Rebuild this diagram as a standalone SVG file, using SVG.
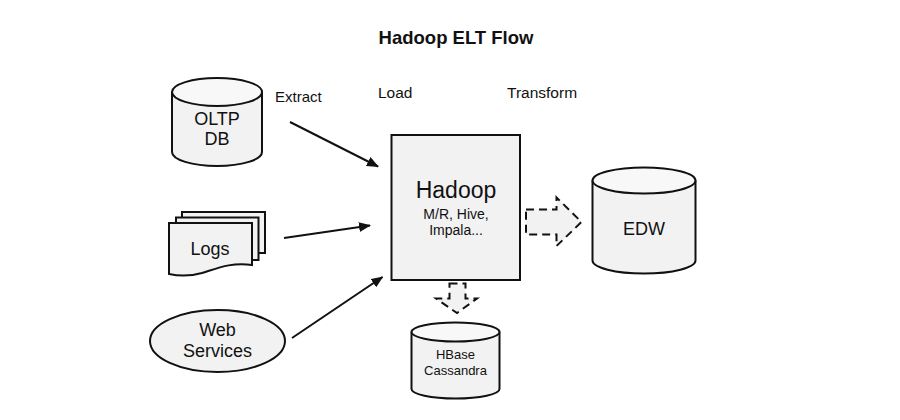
<svg xmlns="http://www.w3.org/2000/svg" width="900" height="420" viewBox="0 0 900 420">
<style>
text{font-family:"Liberation Sans",Arial,sans-serif;fill:#111}
.shape{fill:#f2f2f2;stroke:#111;stroke-width:2}
.top{fill:#f8f8f8;stroke:#111;stroke-width:2}
.conn{stroke:#111;stroke-width:2;fill:none}
.dash{fill:#f2f2f2;stroke:#111;stroke-width:2;stroke-dasharray:8,5}
</style>
<defs>
<marker id="ah" viewBox="0 0 12 10" refX="11" refY="5" markerWidth="12" markerHeight="10" markerUnits="userSpaceOnUse" orient="auto">
<path d="M0,0 L12,5 L0,10 Z" fill="#111"/>
</marker>
</defs>
<rect width="900" height="420" fill="#fff"/>
<text x="456" y="44" font-size="18.5" font-weight="bold" text-anchor="middle">Hadoop ELT Flow</text>
<text x="275" y="102" font-size="15">Extract</text>
<text x="378" y="98" font-size="15.5">Load</text>
<text x="507" y="98" font-size="15.5">Transform</text>

<g id="oltp">
<path class="shape" d="M172,92 V152 A45,14 0 0 0 262,152 V92"/>
<ellipse class="top" cx="217" cy="92" rx="45" ry="14"/>
<text x="217" y="125" font-size="18" text-anchor="middle">OLTP</text>
<text x="217" y="145" font-size="18" text-anchor="middle">DB</text>
</g>

<g id="logs">
<path class="shape" d="M182,212 H265 V253 H182 Z"/>
<path class="shape" d="M176,217.5 H258.5 V260 H176 Z"/>
<path class="shape" d="M169,223 H252 V265 C232,262 218,268 202,273 C188,277 178,276 169,274 Z"/>
<text x="210" y="255" font-size="18" text-anchor="middle">Logs</text>
</g>

<g id="web">
<ellipse class="shape" cx="217.5" cy="341" rx="67.5" ry="31"/>
<text x="217.5" y="336" font-size="18" text-anchor="middle">Web</text>
<text x="217.5" y="357" font-size="18" text-anchor="middle">Services</text>
</g>

<g id="hadoop">
<rect class="shape" x="391.5" y="135" width="128.5" height="145"/>
<text x="456" y="198" font-size="23" text-anchor="middle">Hadoop</text>
<text x="456" y="219" font-size="14" text-anchor="middle">M/R, Hive,</text>
<text x="456" y="235" font-size="14" text-anchor="middle">Impala...</text>
</g>

<g id="edw">
<path class="shape" d="M592.5,180.5 V260.5 A51.5,13 0 0 0 695.5,260.5 V180.5"/>
<ellipse class="top" cx="644" cy="180.5" rx="51.5" ry="13"/>
<text x="644" y="235" font-size="18" text-anchor="middle">EDW</text>
</g>

<g id="hbase">
<path class="shape" d="M411.5,332 V389 A44,9.5 0 0 0 499.5,389 V332"/>
<ellipse class="top" cx="455.5" cy="332" rx="44" ry="9.5"/>
<text x="455.5" y="359" font-size="13" text-anchor="middle">HBase</text>
<text x="455.5" y="375" font-size="13" text-anchor="middle">Cassandra</text>
</g>

<g id="connectors">
<line class="conn" x1="290" y1="122" x2="378" y2="166.5" marker-end="url(#ah)"/>
<line class="conn" x1="284" y1="238" x2="370" y2="225.5" marker-end="url(#ah)"/>
<line class="conn" x1="292" y1="338" x2="382.5" y2="277" marker-end="url(#ah)"/>
<path class="dash" d="M526,209.5 H556.5 V197.5 L581.5,222 L556.5,246 V234.5 H526 Z"/>
<path class="dash" d="M449.5,283.5 H465.5 V298.5 H477 L457,313 L436,298.5 H449.5 Z"/>
</g>
</svg>
